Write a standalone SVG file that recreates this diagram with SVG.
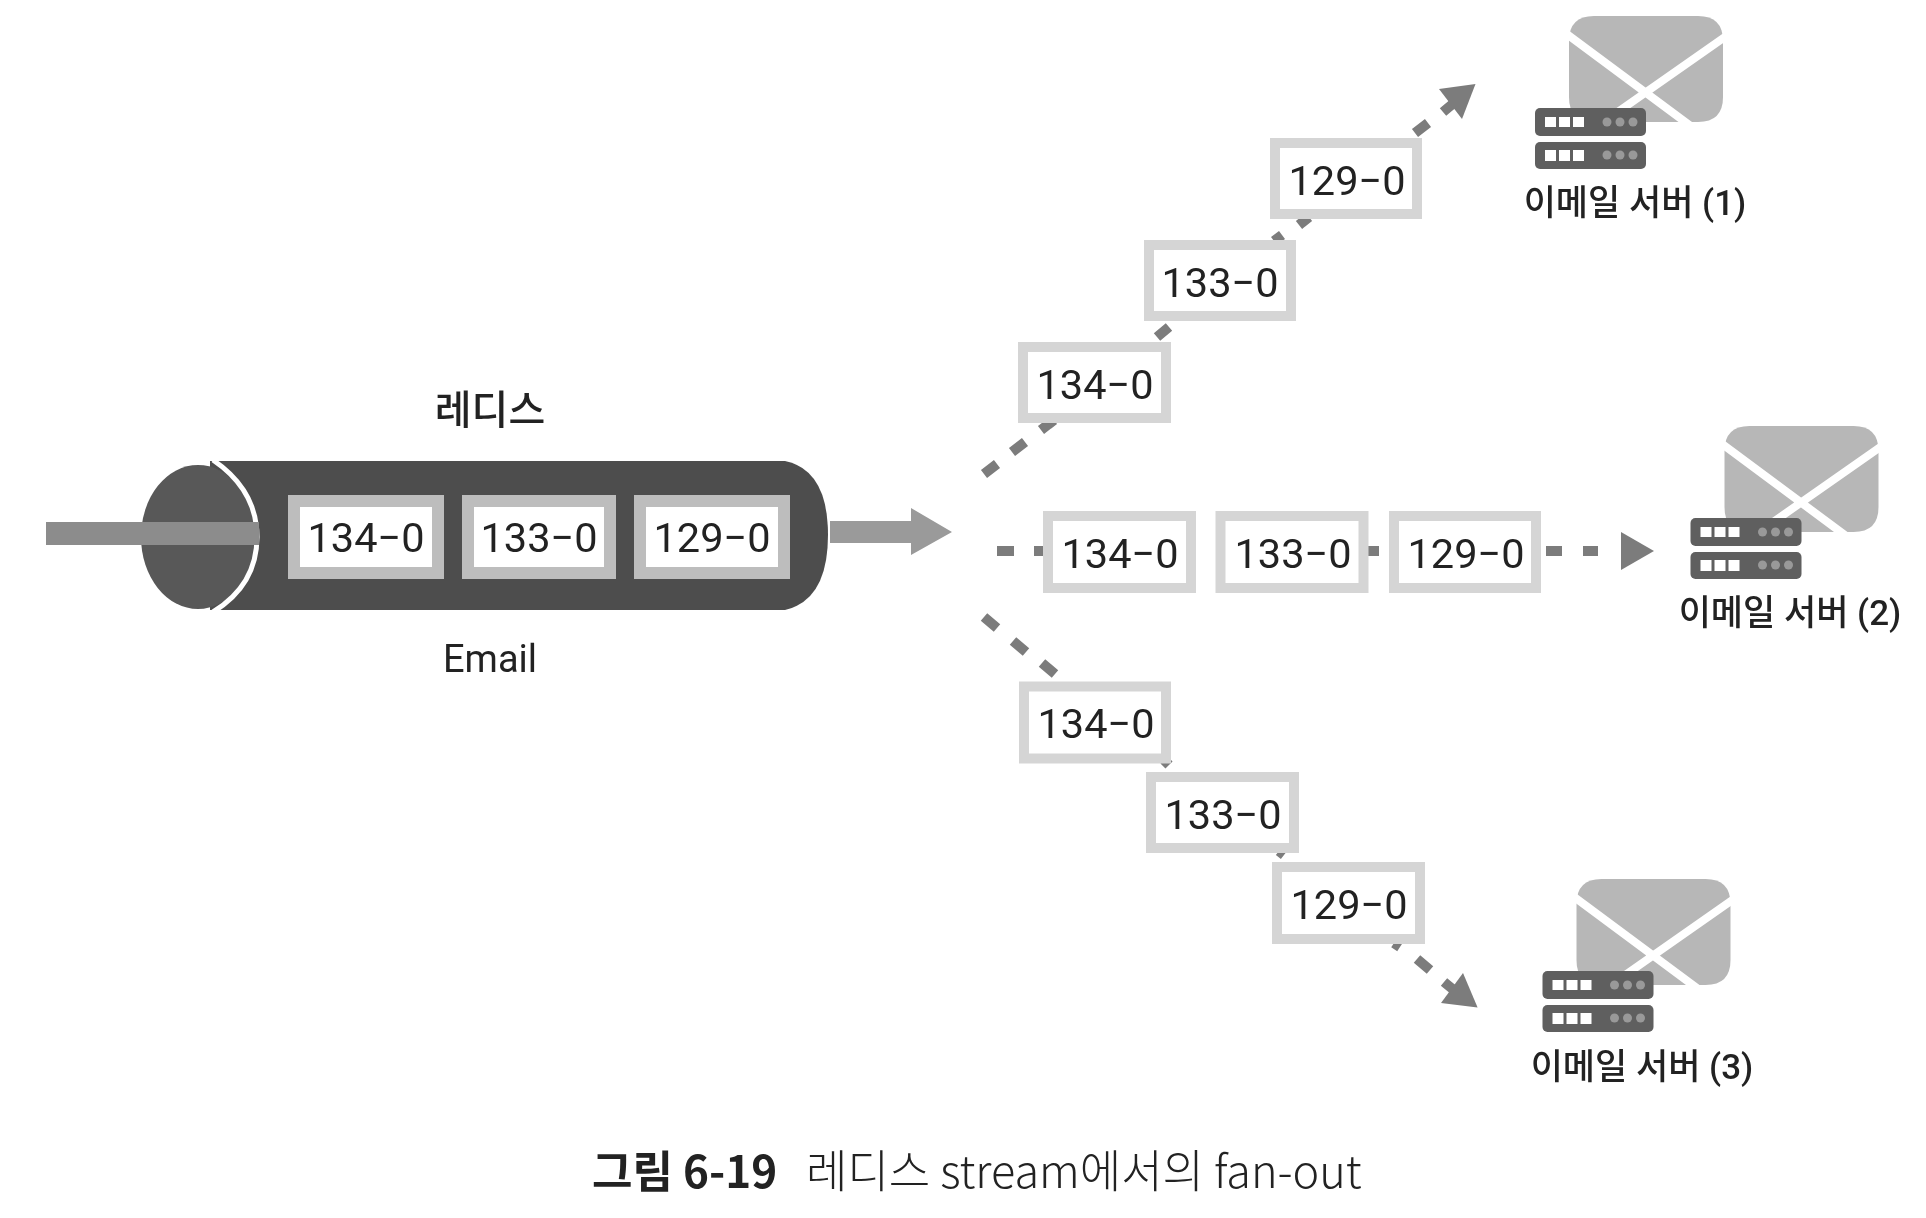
<svg xmlns="http://www.w3.org/2000/svg" width="1926" height="1218" viewBox="0 0 1926 1218">
<style>
text{font-family:"Roboto","Noto Sans CJK KR",sans-serif;fill:#222;text-anchor:middle}
.kr{font-family:"Noto Sans CJK KR","Noto Sans",sans-serif}
.srv{font-family:"Roboto","Noto Sans CJK KR",sans-serif;font-size:35px;font-weight:500}
.n{font-size:41.5px}
.box{fill:#fff;stroke:#d5d5d5;stroke-width:10}
.ibox{fill:#fff;stroke:#bdbdbd;stroke-width:12}
.dash{fill:none;stroke:#7c7c7c;stroke-width:10}
.head{fill:#7c7c7c}
</style>
<defs>
<filter id="soft" x="0" y="0" width="100%" height="100%"><feGaussianBlur stdDeviation="0.5"/></filter>
<g id="server">
<path d="M1594,16H1698Q1723,16 1723,41V97Q1723,122 1698,122H1594Q1569,122 1569,97V41Q1569,16 1594,16Z" fill="#b7b7b7"/>
<path d="M1564,32L1692,127M1732,32L1612,116" fill="none" stroke="#fff" stroke-width="8"/>
<rect x="1535" y="108" width="111" height="28" rx="5" fill="#5f5f5f"/>
<rect x="1535" y="142" width="111" height="27" rx="5" fill="#5f5f5f"/>
<g fill="#fff">
<rect x="1545" y="117" width="11" height="10"/><rect x="1559" y="117" width="11" height="10"/><rect x="1573" y="117" width="11" height="10"/>
<rect x="1545" y="150" width="11" height="11"/><rect x="1559" y="150" width="11" height="11"/><rect x="1573" y="150" width="11" height="11"/>
</g>
<g fill="#999">
<circle cx="1607" cy="122" r="4.5"/><circle cx="1620" cy="122" r="4.5"/><circle cx="1633" cy="122" r="4.5"/>
<circle cx="1607" cy="155" r="4.5"/><circle cx="1620" cy="155" r="4.5"/><circle cx="1633" cy="155" r="4.5"/>
</g>
</g>
</defs>
<rect width="1926" height="1218" fill="#fff"/>
<g filter="url(#soft)">
<g id="redis">
<text class="kr" x="490" y="424" font-size="40" font-weight="500">레디스</text>
<path d="M210,461H785Q828,470 828,535Q828,600 785,610H210Z" fill="#4e4e4e"/>
<ellipse cx="198" cy="537" rx="57" ry="72" fill="#585858"/>
<path d="M213,460Q257,490 257,537Q257,585 213,612" fill="none" stroke="#fff" stroke-width="5"/>
<text x="490" y="672" font-size="38">Email</text>
</g>
<g id="connectors">
<path d="M46,533.5H259" fill="none" stroke="#8c8c8c" stroke-width="23"/>
<polygon points="830,521 911,521 911,508 952,532 911,555 911,543 830,543" fill="#9a9a9a"/>
<path class="dash" d="M984,474L997,464M1012,452L1025,442M1041,430L1054,420M1157,337L1169,327M1274,241L1282,235M1299,225L1309,217M1415,133L1428,123M1443,112L1455,102"/>
<polygon class="head" points="1475.5,84 1439,89 1462,119"/>
<path class="dash" d="M997,551H1014M1034,551H1048M1368,551H1379M1546,551H1562M1583,551H1598"/>
<polygon class="head" points="1654,551 1621,532 1621,570"/>
<path class="dash" d="M984,617L997,628M1013,641L1026,652M1042,663L1055,674M1164,760L1169,765M1279,851L1284,855M1394,943L1400,947M1417,959L1430,970M1444,982L1455,991"/>
<polygon class="head" points="1477.6,1007.6 1463,973 1441,1003"/>
</g>
<g id="q-134"><rect class="ibox" x="294" y="501" width="144" height="72"/><text class="n" x="366" y="552">134−0</text></g>
<g id="q-133"><rect class="ibox" x="468" y="501" width="142" height="72"/><text class="n" x="539" y="552">133−0</text></g>
<g id="q-129"><rect class="ibox" x="640" y="501" width="144" height="72"/><text class="n" x="712" y="552">129−0</text></g>
<g id="t-134"><rect class="box" x="1023" y="347" width="143" height="71"/><text class="n" x="1095" y="399">134−0</text></g>
<g id="t-133"><rect class="box" x="1149" y="245" width="142" height="71"/><text class="n" x="1220" y="297">133−0</text></g>
<g id="t-129"><rect class="box" x="1275" y="143" width="142" height="71"/><text class="n" x="1347" y="195">129−0</text></g>
<g id="m-134"><rect class="box" x="1048" y="516" width="143" height="72"/><text class="n" x="1120" y="568">134−0</text></g>
<g id="m-133"><rect class="box" x="1220.5" y="516" width="143" height="72"/><text class="n" x="1293" y="568">133−0</text></g>
<g id="m-129"><rect class="box" x="1394" y="516" width="142" height="72"/><text class="n" x="1466" y="568">129−0</text></g>
<g id="b-134"><rect class="box" x="1024" y="686.5" width="142" height="72"/><text class="n" x="1096" y="738">134−0</text></g>
<g id="b-133"><rect class="box" x="1151" y="777" width="143" height="71"/><text class="n" x="1223" y="829">133−0</text></g>
<g id="b-129"><rect class="box" x="1277" y="867" width="143" height="72"/><text class="n" x="1349" y="919">129−0</text></g>
<g id="email-1"><use href="#server"/><text class="srv" x="1635" y="215">이메일 서버 (1)</text></g>
<g id="email-2"><use href="#server" x="155.5" y="410"/><text class="srv" x="1790" y="625">이메일 서버 (2)</text></g>
<g id="email-3"><use href="#server" x="7.5" y="863"/><text class="srv" x="1642" y="1079">이메일 서버 (3)</text></g>
<g id="caption">
<text class="kr" x="592" y="1188" font-size="44" font-weight="700" style="text-anchor:start">그림 6-19</text>
<text class="kr" x="806" y="1188" font-size="45" font-weight="300" style="text-anchor:start">레디스 stream에서의 fan-out</text>
</g>
</g>
</svg>
